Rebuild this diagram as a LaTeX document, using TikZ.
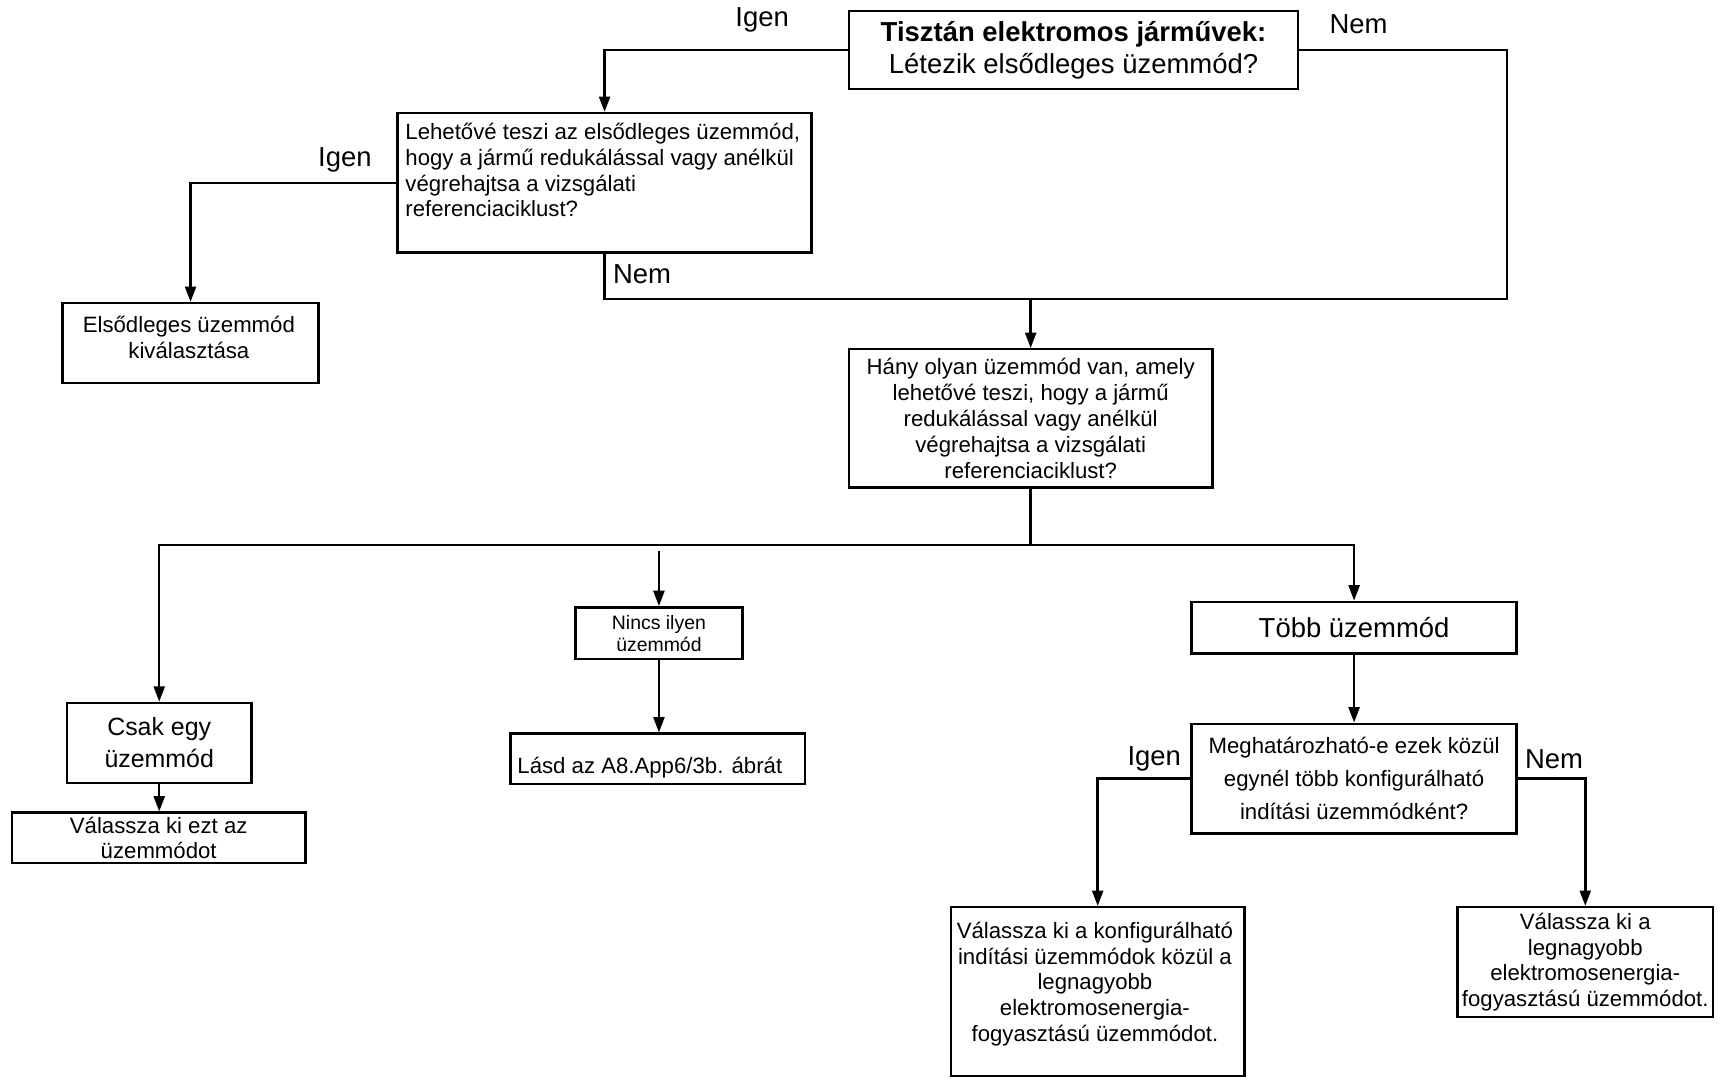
\documentclass[tikz,border=0pt]{standalone}
\usepackage{fontspec}
\setmainfont{Liberation Sans}
\usetikzlibrary{arrows.meta}
\tikzset{
  box/.style={draw=black, line width=2.2pt, inner sep=0pt, align=center, font=\fontsize{20.2}{23.5}\selectfont},
  bigbox/.style={box, font=\fontsize{25}{29}\selectfont},
  txt/.style={inner sep=0pt, font=\fontsize{20.2}{23.5}\selectfont},
  ln/.style={line width=2.2pt, draw=black},
  arr/.style={ln, -{Triangle[length=14pt,width=10pt]}},
  lbl/.style={inner sep=0pt, font=\fontsize{25}{29}\selectfont}
}
\begin{document}
\begin{tikzpicture}[x=1pt,y=-1pt]
\useasboundingbox (0,0) rectangle (1568,988);
% boxes
\node[bigbox, minimum width=409pt, minimum height=71pt] (t) at (977.5,45.5)
  {\textbf{Tisztán elektromos járművek:}\\Létezik elsődleges üzemmód?};
\node[box, minimum width=377pt, minimum height=127pt] (q2) at (550.5,166.5) {};
\node[txt, anchor=north west, align=left] (q2t) at (369,112)
  {Lehetővé teszi az elsődleges üzemmód,\\hogy a jármű redukálással vagy anélkül\\végrehajtsa a vizsgálati\\referenciaciklust?};
\node[box, minimum width=233pt, minimum height=73pt] (r1) at (173.5,312.5) {};
\node[txt, align=center] (r1t) at (172,307.5) {Elsődleges üzemmód\\kiválasztása};
\node[box, minimum width=331pt, minimum height=126pt] (q4) at (938.5,381)
  {Hány olyan üzemmód van, amely\\lehetővé teszi, hogy a jármű\\redukálással vagy anélkül\\végrehajtsa a vizsgálati\\referenciaciklust?};
\node[box, minimum width=152pt, minimum height=47pt, font=\fontsize{17.7}{20}\selectfont] (n1) at (600,576.5)
  {Nincs ilyen\\üzemmód};
\node[box, minimum width=268pt, minimum height=46pt] (l1) at (599,691) {};
\node[txt, anchor=west] (l1t) at (471,699) {Lásd az A8.App6/3b. ábrát};
\node[box, minimum width=168pt, minimum height=73pt, font=\fontsize{22.7}{29}\selectfont] (c1) at (145,676.5)
  {Csak egy\\üzemmód};
\node[box, minimum width=267pt, minimum height=46pt] (v1) at (144.5,763)
  {Válassza ki ezt az\\üzemmódot};
\node[bigbox, minimum width=296pt, minimum height=47pt] (ts) at (1233,571.5) {Több üzemmód};
\node[box, minimum width=296pt, minimum height=100pt, font=\fontsize{20.2}{30}\selectfont] (q5) at (1233,709)
  {Meghatározható-e ezek közül\\egynél több konfigurálható\\indítási üzemmódként?};
\node[box, minimum width=267pt, minimum height=154pt] (r2) at (999.5,903) {};
\node[txt, align=center] (r2t) at (997,896)
  {Válassza ki a konfigurálható\\indítási üzemmódok közül a\\legnagyobb\\elektromosenergia-\\fogyasztású üzemmódot.};
\node[box, minimum width=233pt, minimum height=100pt] (r3) at (1443.5,876)
  {Válassza ki a\\legnagyobb\\elektromosenergia-\\fogyasztású üzemmódot.};
% labels
\node[lbl] (lb1) at (694,18) {Igen};
\node[lbl] (lb2) at (1237,22) {Nem};
\node[lbl] (lb3) at (314,146) {Igen};
\node[lbl, anchor=west] (lb4) at (558,250) {Nem};
\node[lbl] (lb5) at (1051,691) {Igen};
\node[lbl] (lb6) at (1415,691) {Nem};
% connectors
\coordinate (j1) at (1372,272);
\coordinate (bus) at (938.5,496);
\coordinate (mid) at (600,502);
\draw[arr] (t.west) -| (q2.north);
\draw[ln] (t.east) -| (j1) -- (q2.south |- j1) -- (q2.south);
\draw[arr] (q4.north |- j1) -- (q4.north);
\draw[arr] (q2.west) -| (r1.north);
\draw[ln] (q4.south) -- (bus);
\draw[arr] (bus) -| (c1.north);
\draw[arr] (bus) -| (ts.north);
\draw[arr] (mid) -- (n1.north);
\draw[arr] (n1.south) -- (n1.south |- l1.north);
\draw[arr] (c1.south) -- (c1.south |- v1.north);
\draw[arr] (ts.south) -- (q5.north);
\draw[arr] (q5.west) -| (r2.north);
\draw[arr] (q5.east) -| (r3.north);
\end{tikzpicture}
\end{document}
